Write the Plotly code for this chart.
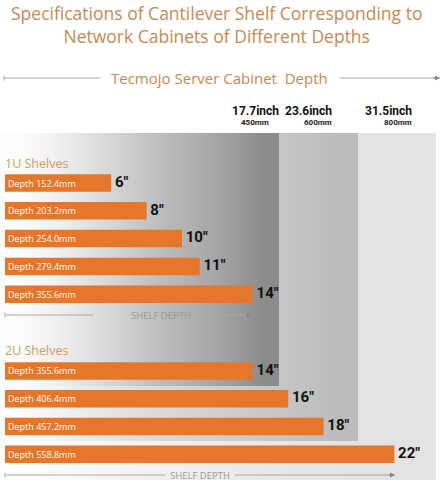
import plotly.graph_objects as go

# shelf data (inches / mm)
shelf_1u_in = [6, 8, 10, 11, 14]
shelf_1u_mm = ["152.4", "203.2", "254.0", "279.4", "355.6"]
shelf_2u_in = [14, 16, 18, 22]
shelf_2u_mm = ["355.6", "406.4", "457.2", "558.8"]

cabinet_in = ["17.7inch", "23.6inch", "31.5inch"]
cabinet_mm = ["450mm", "600mm", "800mm"]

W, H = 444, 488
ORANGE = "#e6762a"
TITLE_COL = "#c8894f"
LINE_COL = "#a8a8a8"
COND = "Roboto"

# row layout: 1U rows 0..4, 2U rows after a gap
GROUP_GAP = 2.76
rows_1u = list(range(len(shelf_1u_in)))
rows_2u = [len(shelf_1u_in) - 1 + GROUP_GAP + i for i in range(len(shelf_2u_in))]

# axis scale (x: 17.7 px per inch, y: 27.8 px per row)
X0_PX, PX_PER_IN = 5, 17.7
Y0_PX, PX_PER_ROW = 183, 27.8


def xd(p):
    return (p - X0_PX) / PX_PER_IN


def yd(p):
    return (p - Y0_PX) / PX_PER_ROW


def px(p):
    return p / W


def py(p):
    return 1 - p / H


fig = go.Figure()

# background cabinet bands: right edge px, bottom px, grey levels left->right
bands = [
    (436, 480, [253, 248, 243, 238, 234, 230, 228, 227]),
    (358, 441, [252, 240, 228, 218, 210, 203, 196, 188]),
    (279, 386, [252, 242, 226, 208, 190, 176, 160, 140]),
]
BAND_TOP = 133
for right, bottom, greys in bands:
    n = len(greys)
    step = right / n
    xs = [xd(step * (i + 0.5)) for i in range(n)]
    h = bottom - BAND_TOP
    ys = [yd(BAND_TOP + h / 4), yd(BAND_TOP + 3 * h / 4)]
    fig.add_trace(go.Heatmap(
        x=xs, y=ys, z=[greys, greys], zmin=0, zmax=255,
        colorscale=[[0, "black"], [1, "white"]], showscale=False,
        zsmooth="best", hoverinfo="skip"))

# bars
all_in = shelf_1u_in + shelf_2u_in
all_mm = shelf_1u_mm + shelf_2u_mm
all_rows = rows_1u + rows_2u
fig.add_trace(go.Bar(
    x=all_in, y=all_rows, orientation="h", width=0.63,
    marker=dict(color=ORANGE, line=dict(width=0)),
    text=["Depth %smm" % m for m in all_mm],
    textposition="inside", insidetextanchor="start", textangle=0,
    constraintext="none",
    textfont=dict(family="Open Sans", size=9, color="white"),
    hoverinfo="skip"))

# value labels
fig.add_trace(go.Scatter(
    x=all_in, y=all_rows, mode="text",
    text=[" %d\u2033" % v for v in all_in],
    textposition="middle right",
    textfont=dict(family=COND, size=15, color="#111111", weight="bold"),
    hoverinfo="skip"))

shapes = []
annotations = []


def arrow_line(y, x_start, x_end, gap_l, gap_r):
    shapes.append(dict(type="line", xref="paper", yref="paper",
                       x0=px(x_start), x1=px(gap_l), y0=py(y), y1=py(y),
                       line=dict(color=LINE_COL, width=1)))
    shapes.append(dict(type="line", xref="paper", yref="paper",
                       x0=px(gap_r), x1=px(x_end), y0=py(y), y1=py(y),
                       line=dict(color=LINE_COL, width=1)))
    shapes.append(dict(type="line", xref="paper", yref="paper",
                       x0=px(x_start), x1=px(x_start), y0=py(y - 2.5), y1=py(y + 2.5),
                       line=dict(color=LINE_COL, width=1)))
    annotations.append(dict(xref="paper", yref="paper", x=px(x_end), y=py(y),
                            ax=-8, ay=0, text="", showarrow=True, arrowhead=2,
                            arrowsize=1, arrowwidth=1, arrowcolor="#888888"))


arrow_line(78, 4, 440, 100, 340)
arrow_line(315, 5, 252, 93, 165)
arrow_line(475, 5, 395, 165, 235)

# titles
annotations.append(dict(xref="paper", yref="paper", x=px(216), y=py(24), yanchor="middle",
                        text="Specifications of Cantilever Shelf Corresponding to<br>Network Cabinets of Different Depths",
                        showarrow=False, align="center",
                        font=dict(family="Open Sans", size=17.5, color=TITLE_COL)))
annotations.append(dict(xref="paper", yref="paper", x=px(219), y=py(78), yanchor="middle",
                        text="Tecmojo Server Cabinet  Depth", showarrow=False,
                        font=dict(family="Open Sans", size=15, color=TITLE_COL)))

# section labels
for lbl, yy in [("1U Shelves", 163), ("2U Shelves", 350)]:
    annotations.append(dict(xref="paper", yref="paper", x=px(3), y=py(yy),
                            xanchor="left", yanchor="middle", text=lbl, showarrow=False,
                            font=dict(family="Open Sans", size=12.5, color="#d39a62")))

for cx, yy in [(129, 315), (200, 475)]:
    annotations.append(dict(xref="paper", yref="paper", x=px(cx), y=py(yy), yanchor="middle",
                            text="SHELF DEPTH", showarrow=False,
                            font=dict(family="Open Sans", size=9.5, color="#9a9a9a")))

# cabinet depth headers
for c_in, c_mm, cx in zip(cabinet_in, cabinet_mm, [255, 334, 414]):
    annotations.append(dict(xref="paper", yref="paper", x=px(cx), y=py(111), yanchor="middle",
                            text=c_in, showarrow=False,
                            font=dict(family=COND, size=12, color="#111111", weight="bold")))
    annotations.append(dict(xref="paper", yref="paper", x=px(cx), y=py(123), yanchor="middle",
                            text=c_mm, showarrow=False,
                            font=dict(family=COND, size=8, color="#222222", weight="bold")))

fig.update_layout(
    width=W, height=H,
    margin=dict(l=0, r=0, t=0, b=0),
    paper_bgcolor="white", plot_bgcolor="white",
    showlegend=False,
    xaxis=dict(range=[xd(0), xd(W)], visible=False, fixedrange=True),
    yaxis=dict(range=[yd(H), yd(0)], visible=False, fixedrange=True),
    shapes=shapes, annotations=annotations,
)

fig.write_html("out.html", config={"displayModeBar": False},
               post_script="document.body.style.margin='0';")
